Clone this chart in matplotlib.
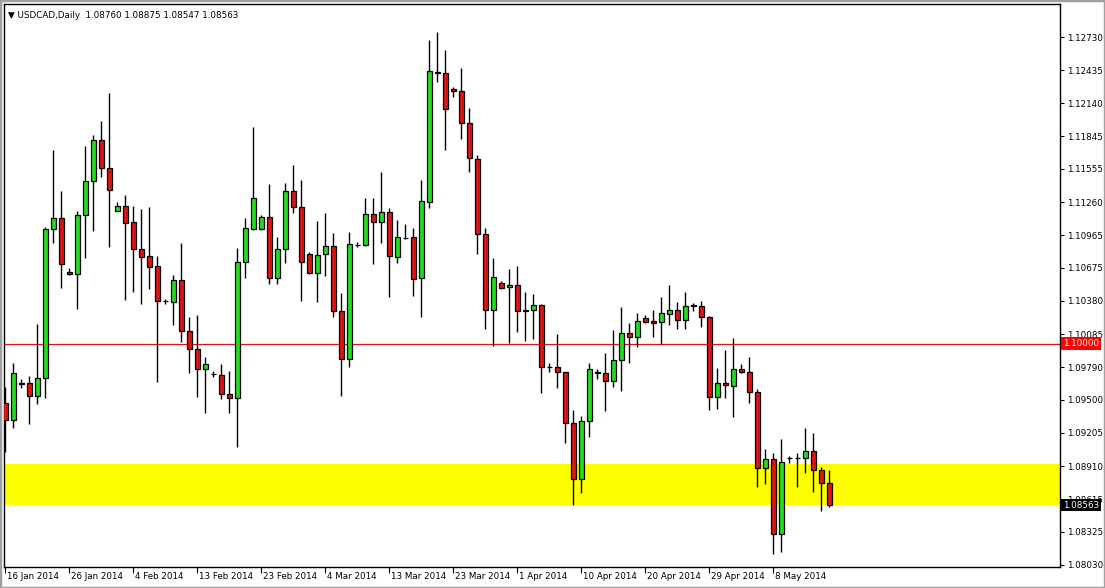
import matplotlib

matplotlib.use("Agg")
import matplotlib.pyplot as plt
from matplotlib.patches import Rectangle
from matplotlib.transforms import blended_transform_factory, offset_copy

# Daily USDCAD candles, 16 Jan 2014 .. 16 May 2014 (MT4 with Sunday bars)
OPEN = [
    1.09475, 1.09321, 1.09645, 1.09647, 1.09534, 1.09692, 1.11018, 1.11116, 1.10638, 1.10617,
    1.11143, 1.11448, 1.11813, 1.11561, 1.11181, 1.11226, 1.11080, 1.10840, 1.10778, 1.10689,
    1.10377, 1.10368, 1.10564, 1.10110, 1.09950, 1.09772, 1.09730, 1.09718, 1.09549, 1.09513,
    1.10724, 1.11018, 1.11018, 1.11125, 1.10582, 1.10840, 1.11356, 1.11214, 1.10795, 1.10626,
    1.10795, 1.10867, 1.10288, 1.09861, 1.10878, 1.10875, 1.11151, 1.11080, 1.11169, 1.10769,
    1.10944, 1.10947, 1.10582, 1.11264, 1.12421, 1.12407, 1.12264, 1.12249, 1.11961, 1.11641,
    1.10973, 1.10300, 1.10543, 1.10502, 1.10519, 1.10294, 1.10300, 1.10344, 1.09789, 1.09789,
    1.09751, 1.09291, 1.08792, 1.09315, 1.09742, 1.09736, 1.09671, 1.09855, 1.10092, 1.10062,
    1.10226, 1.10202, 1.10190, 1.10261, 1.10300, 1.10208, 1.10338, 1.10338, 1.10235, 1.09522,
    1.09647, 1.09626, 1.09772, 1.09751, 1.09567, 1.08890, 1.08970, 1.08303, 1.08979, 1.08985,
    1.08979, 1.09042, 1.08872, 1.08760,
]
HIGH = [
    1.09617, 1.09831, 1.09683, 1.09712, 1.10172, 1.11042, 1.11724, 1.11359, 1.10671, 1.11181,
    1.11760, 1.11858, 1.11982, 1.12229, 1.11261, 1.11324, 1.11226, 1.11199, 1.11220, 1.10781,
    1.10401, 1.10611, 1.10899, 1.10238, 1.10255, 1.09878, 1.09757, 1.09819, 1.09757, 1.10849,
    1.11122, 1.11932, 1.11145, 1.11421, 1.10950, 1.11430, 1.11591, 1.11457, 1.10819, 1.11092,
    1.11160, 1.10982, 1.10454, 1.10991, 1.10908, 1.11294, 1.11294, 1.11528, 1.11205, 1.11101,
    1.11062, 1.11027, 1.11457, 1.12703, 1.12772, 1.12614, 1.12288, 1.12451, 1.12095, 1.11680,
    1.11027, 1.10766, 1.10558, 1.10668, 1.10691, 1.10463, 1.10442, 1.10350, 1.09825, 1.10086,
    1.09751, 1.09410, 1.09356, 1.09825, 1.09772, 1.09914, 1.10122, 1.10330, 1.10187, 1.10276,
    1.10255, 1.10300, 1.10413, 1.10522, 1.10368, 1.10457, 1.10365, 1.10383, 1.10249, 1.09787,
    1.09944, 1.10048, 1.09819, 1.09884, 1.09596, 1.09059, 1.09024, 1.09151, 1.09003, 1.09030,
    1.09246, 1.09202, 1.08905, 1.08875,
]
LOW = [
    1.09039, 1.09246, 1.09602, 1.09282, 1.09460, 1.09519, 1.10899, 1.10499, 1.10608, 1.10306,
    1.10766, 1.11006, 1.11487, 1.10864, 1.11181, 1.10389, 1.10460, 1.10356, 1.10490, 1.09662,
    1.10353, 1.10166, 1.10018, 1.09742, 1.09528, 1.09386, 1.09706, 1.09511, 1.09386, 1.09083,
    1.10588, 1.11010, 1.11015, 1.10528, 1.10528, 1.10715, 1.11160, 1.10383, 1.10617, 1.10374,
    1.10605, 1.10235, 1.09537, 1.09789, 1.10858, 1.10870, 1.10706, 1.10893, 1.10418, 1.10715,
    1.10929, 1.10427, 1.10240, 1.11205, 1.12326, 1.11724, 1.12193, 1.11819, 1.11531, 1.10795,
    1.10128, 1.09979, 1.10490, 1.10009, 1.10107, 1.10027, 1.10042, 1.09558, 1.09751, 1.09603,
    1.09113, 1.08564, 1.08668, 1.09166, 1.09686, 1.09404, 1.09617, 1.09582, 1.09825, 1.09968,
    1.10181, 1.10062, 1.09997, 1.10166, 1.10131, 1.10128, 1.10294, 1.10151, 1.09410, 1.09415,
    1.09514, 1.09344, 1.09742, 1.09469, 1.08727, 1.08748, 1.08125, 1.08149, 1.08935, 1.08727,
    1.08852, 1.08683, 1.08510, 1.08547,
]
CLOSE = [
    1.09321, 1.09736, 1.09648, 1.09534, 1.09692, 1.11018, 1.11116, 1.10706, 1.10617, 1.11143,
    1.11448, 1.11813, 1.11561, 1.11368, 1.11226, 1.11077, 1.10840, 1.10775, 1.10686, 1.10377,
    1.10380, 1.10564, 1.10110, 1.09950, 1.09772, 1.09816, 1.09727, 1.09549, 1.09513, 1.10724,
    1.11027, 1.11294, 1.11125, 1.10582, 1.10840, 1.11356, 1.11214, 1.10724, 1.10626, 1.10786,
    1.10867, 1.10288, 1.09861, 1.10884, 1.10880, 1.11151, 1.11080, 1.11169, 1.10778, 1.10947,
    1.10938, 1.10573, 1.11267, 1.12427, 1.12407, 1.12086, 1.12246, 1.11961, 1.11650, 1.10973,
    1.10300, 1.10591, 1.10493, 1.10519, 1.10288, 1.10296, 1.10341, 1.09789, 1.09791, 1.09751,
    1.09291, 1.08792, 1.09315, 1.09772, 1.09744, 1.09671, 1.09855, 1.10092, 1.10062, 1.10199,
    1.10193, 1.10181, 1.10270, 1.10300, 1.10211, 1.10335, 1.10340, 1.10235, 1.09522, 1.09647,
    1.09629, 1.09775, 1.09751, 1.09567, 1.08890, 1.08970, 1.08303, 1.08944, 1.08981, 1.08983,
    1.09042, 1.08872, 1.08757, 1.08563,
]

DATE_BARS = [0, 8, 16, 24, 32, 40, 48, 56, 64, 72, 80, 88, 96]
DATE_LABELS = [
    "16 Jan 2014", "26 Jan 2014", "4 Feb 2014", "13 Feb 2014", "23 Feb 2014", "4 Mar 2014",
    "13 Mar 2014", "23 Mar 2014", "1 Apr 2014", "10 Apr 2014", "20 Apr 2014", "29 Apr 2014",
    "8 May 2014",
]
PRICE_TICKS = [
    1.12730, 1.12435, 1.12140, 1.11845, 1.11555, 1.11260, 1.10965, 1.10675, 1.10380,
    1.10085, 1.09790, 1.09500, 1.09205, 1.08910, 1.08615, 1.08325, 1.08030,
]
LEVEL_LINE = 1.10000
ZONE_LOW, ZONE_HIGH = 1.08564, 1.08929
HEADER = "\u25bc USDCAD,Daily  1.08760 1.08875 1.08547 1.08563"

BULL_COLOR = "#22dd22"
BEAR_COLOR = "#dd1515"
FONT = "DejaVu Sans"
FONT_SIZE = 6.3

W, H = 1105, 588
fig = plt.figure(figsize=(W / 100, H / 100), dpi=100)
fig.patch.set_facecolor("white")

left, right, top, bottom = 4, 1060, 4, 567
ax = fig.add_axes([left / W, 1 - bottom / H, (right - left) / W, (bottom - top) / H])
ax.set_facecolor("white")

# 8 px per bar, bar 0 centred at x = 5.3 px
x0 = -(5.3 - left) / 8.0
ax.set_xlim(x0, x0 + (right - left) / 8.0)
ax.set_ylim(1.130594 - bottom * 0.00008902, 1.130594 - top * 0.00008902)

ax.axhspan(ZONE_LOW, ZONE_HIGH, color="#ffff00", zorder=0.5, lw=0)
ax.axhline(LEVEL_LINE, color="#e01010", lw=0.9, zorder=0.8)

xs = list(range(len(OPEN)))
ax.vlines(xs, LOW, HIGH, color="black", lw=1.0, zorder=2)
for i in xs:
    o, c = OPEN[i], CLOSE[i]
    color = BULL_COLOR if c >= o else BEAR_COLOR
    height = max(abs(c - o), 0.00001)
    ax.bar(i, height, bottom=min(o, c), width=0.62, color=color, edgecolor="black",
           linewidth=0.9, zorder=3)

for side in ["left", "right", "top", "bottom"]:
    ax.spines[side].set_color("black")
    ax.spines[side].set_linewidth(1.0)

ax.yaxis.tick_right()
ax.set_yticks(PRICE_TICKS)
ax.set_yticklabels([f"{v:.5f}" for v in PRICE_TICKS])
ax.tick_params(axis="y", direction="out", length=3, width=0.8, pad=2, labelsize=FONT_SIZE,
               colors="black")
for lbl in ax.get_yticklabels():
    lbl.set_family(FONT)

ax.set_xticks(DATE_BARS)
ax.set_xticklabels([])
ax.tick_params(axis="x", direction="out", length=4, width=0.8)
bt = blended_transform_factory(ax.transData, ax.transAxes)
for bar, label in zip(DATE_BARS, DATE_LABELS):
    ax.text(bar, -0.008, label, transform=offset_copy(bt, fig=fig, x=2, y=0, units="dots"),
            ha="left", va="top", fontsize=FONT_SIZE, family=FONT, clip_on=False)

# price boxes on the right scale
rt = blended_transform_factory(ax.transAxes, ax.transData)
ax.text(1.0025, LEVEL_LINE, f"{LEVEL_LINE:.5f}", transform=rt, ha="left", va="center",
        fontsize=FONT_SIZE, family=FONT, color="white", clip_on=False, zorder=10,
        bbox=dict(boxstyle="square,pad=0.2", fc="#ff0000", ec="none"))
ax.text(1.0025, CLOSE[-1], f"{CLOSE[-1]:.5f}", transform=rt, ha="left", va="center",
        fontsize=FONT_SIZE, family=FONT, color="white", clip_on=False, zorder=10,
        bbox=dict(boxstyle="square,pad=0.2", fc="#000000", ec="none"))

ax.text(0.004, 0.988, HEADER, transform=ax.transAxes, ha="left", va="top",
        fontsize=FONT_SIZE, family=FONT, color="black")

fig.patches.append(Rectangle((0, 0), 1, 1, transform=fig.transFigure, fill=False,
                             ec="#a0a0a0", lw=2.5))

fig.savefig("out.png", dpi=100)
